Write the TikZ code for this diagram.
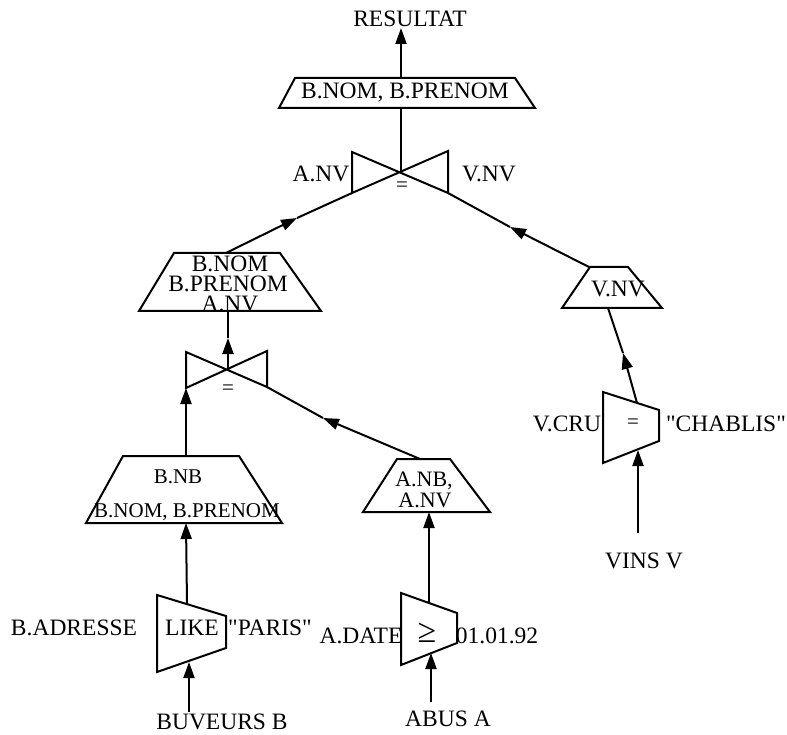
\documentclass[tikz,border=0pt]{standalone}
\usepackage{fontspec}
\setmainfont{Liberation Serif}
\newfontfamily\qfont{Liberation Serif}[Ligatures=ResetAll]
\usetikzlibrary{arrows.meta,calc}
\begin{document}
\begin{tikzpicture}[x=1pt,y=-1pt,line width=2pt,line join=miter,
  lbl/.style={inner sep=0pt,anchor=base,font=\fontsize{23.5}{26}\selectfont},
  lbls/.style={inner sep=0pt,anchor=base,font=\fontsize{21}{24}\selectfont},
  lblm/.style={inner sep=0pt,anchor=base,font=\fontsize{22}{24}\selectfont},
  eqs/.style={inner sep=0pt,anchor=center,font=\fontsize{21}{24}\selectfont},
  arr/.style={-{Triangle[length=16pt,width=11pt]}},
  shp/.style={draw=black}]
\useasboundingbox (0,0) rectangle (787,735);

% ---------- coordinates ----------
% top projection
\coordinate (p1t) at (401,78); \coordinate (p1b) at (401,108);
\coordinate (res) at (401,28);
% join 1
\coordinate (j1c) at (401,172);
\coordinate (j1lt) at (352,152); \coordinate (j1lb) at (352,193);
\coordinate (j1rt) at (448,151); \coordinate (j1rb) at (448,193);
% left projection
\coordinate (p2t) at (226,253); \coordinate (p2b) at (228,311);
% join 2
\coordinate (j2c) at (228,370);
\coordinate (j2lt) at (186,352); \coordinate (j2lb) at (186,388);
\coordinate (j2rt) at (267,351); \coordinate (j2rb) at (267,387);
% B.NB projection
\coordinate (p3t) at (186,456); \coordinate (p3b) at (186,523);
% A.NB projection
\coordinate (p4t) at (420,459); \coordinate (p4b) at (429,512);
% V.NV projection
\coordinate (p5t) at (589,267); \coordinate (p5b) at (608,308);
% selections
\coordinate (s1t) at (187,604); \coordinate (s1b) at (189,662);
\coordinate (s2t) at (429,603); \coordinate (s2b) at (431,653);
\coordinate (s3t) at (637,403); \coordinate (s3b) at (638,450);
% relation ends
\coordinate (buv) at (189,712);
\coordinate (abus) at (431,702);
\coordinate (vins) at (638,533);
% mid-arrow tips
\coordinate (m1) at (297,218);
\coordinate (m2) at (510,227);
\coordinate (m3) at (228,338);
\coordinate (m4) at (323,418);
\coordinate (m5) at (623,353);

% ---------- shapes ----------
\draw[shp] (295,78) -- (515,78) -- (535,108) -- (279,108) -- cycle;
\draw[shp] (j1lt) -- (j1rb) -- (j1rt) -- (j1lb) -- cycle;
\draw[shp] (174,253) -- (280,253) -- (321,311) -- (139,311) -- cycle;
\draw[shp] (j2lt) -- (j2rb) -- (j2rt) -- (j2lb) -- cycle;
\draw[shp] (123,456) -- (239,456) -- (282,523) -- (86,523) -- cycle;
\draw[shp] (397,459) -- (450,459) -- (490,512) -- (363,512) -- cycle;
\draw[shp] (590,267) -- (628,267) -- (662,308) -- (562,308) -- cycle;
\draw[shp] (157,595) -- (226,616) -- (226,648) -- (157,672) -- cycle;
\draw[shp] (401,593) -- (457,613) -- (457,643) -- (401,665) -- cycle;
\draw[shp] (603,392) -- (659,410) -- (659,441) -- (603,463) -- cycle;

% ---------- connectors ----------
\draw[arr] (p1t) -- (res);
\draw (j1c) -- (p1b);
\draw[arr] (p2t) -- (m1); \draw (m1) -- (j1lb);
\draw[arr] (p5t) -- (m2); \draw (m2) -- (j1rb);
\draw[arr] (j2c) -- (m3); \draw (m3) -- (p2b);
\draw[arr] (p3t) -- (j2lb);
\draw[arr] (p4t) -- (m4); \draw (m4) -- (j2rb);
\draw[arr] (s3t) -- (m5); \draw (m5) -- (p5b);
\draw[arr] (vins) -- (s3b);
\draw[arr] (s1t) -- (p3b);
\draw[arr] (buv) -- (s1b);
\draw[arr] (s2t) -- (p4b);
\draw[arr] (abus) -- (s2b);

% ---------- labels ----------
\node[lbl] (tres) at (410,27) {RESULTAT};
\node[lbl] (tp1) at (405,99) {B.NOM, B.PRENOM};
\node[lbl] (tj1l) at (321,182) {A.NV};
\node[lbl] (tj1r) at (489,182) {V.NV};
\node[eqs] (tj1e) at (402,187) {=};
\node[lbl] (tp2a) at (230,272) {B.NOM};
\node[lbl] (tp2b) at (228,291) {B.PRENOM};
\node[lbl] (tp2c) at (230,312) {A.NV};
\node[eqs] (tj2e) at (228,390) {=};
\node[lbls] (tp3a) at (178,483) {B.NB};
\node[lbls] (tp3b) at (187,517) {B.NOM, B.PRENOM};
\node[lblm] (tp4a) at (424,486) {A.NB,};
\node[lblm] (tp4b) at (425,507) {A.NV};
\node[lbl] (tp5) at (618,297) {V.NV};
\node[lbl] (ts3l) at (567,431) {V.CRU};
\node[eqs] (ts3e) at (633,424) {=};
\node[lbl] (ts3r) at (726,431) {\qfont "CHABLIS"};
\node[lbl] (tvins) at (644,568) {VINS V};
\node[lbl,anchor=base east] (ts1l) at (138,635) {B.ADRESSE};
\node[lbl] (ts1e) at (192,635) {LIKE};
\node[lbl] (ts1r) at (270,635) {\qfont "PARIS"};
\node[lbl] (ts2l) at (361,643) {A.DATE};
\node[inner sep=0pt,anchor=center,font=\fontsize{34}{36}\selectfont] (ts2e) at (427,633) {≥};
\node[lbl] (ts2r) at (497,643) {01.01.92};
\node[lbl] (tbuv) at (222,729) {BUVEURS B};
\node[lbl] (tabus) at (448,726) {ABUS A};
\end{tikzpicture}
\end{document}
